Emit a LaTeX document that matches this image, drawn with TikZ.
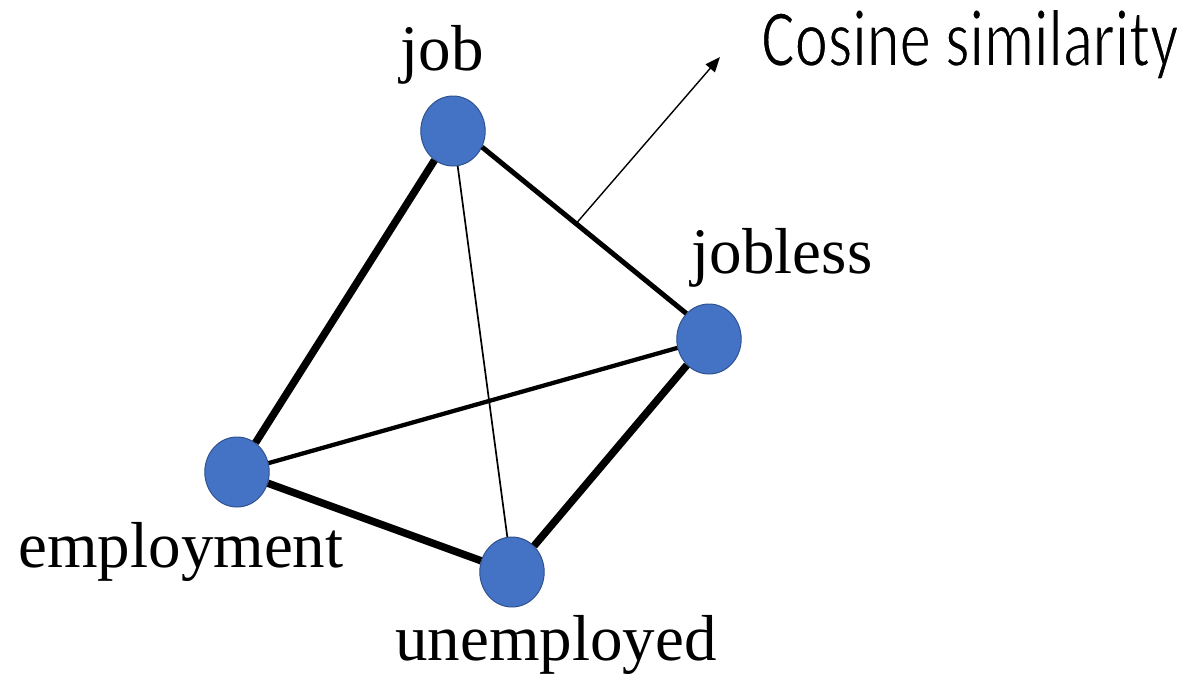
\documentclass[tikz,border=0pt]{standalone}
\usepackage{fontspec}
\setmainfont{Liberation Serif}
\newfontfamily\calib{Carlito}
\usetikzlibrary{arrows.meta,calc}
\definecolor{nodeblue}{HTML}{4472C4}
\definecolor{nodeedge}{HTML}{2F528F}
\newcommand{\thintext}[1]{\special{pdf:literal direct 2 Tr 1 G 1.6 w}#1\special{pdf:literal direct 0 Tr 0 G}}
\begin{document}
\begin{tikzpicture}[x=1pt,y=-1pt,
  word/.style={circle,fill=nodeblue,draw=nodeedge,line width=1pt,minimum size=70pt,inner sep=0pt,xscale=0.92,transform shape},
  wlabel/.style={anchor=base,inner sep=0pt,font=\fontsize{65}{70}\selectfont},
  heavy/.style={line width=7.5pt},
  medium/.style={line width=5pt},
  light/.style={line width=4.3pt},
  hair/.style={line width=1.7pt}]
\useasboundingbox (0,0) rectangle (1184,688);
% word nodes
\node[word] (job) at (453,131) {};
\node[word] (jobless) at (709,339) {};
\node[word] (employment) at (237,472) {};
\node[word] (unemployed) at (512,572) {};
% labels
\node[wlabel] (ljob) at (442,70) {job};
\node[wlabel] (ljobless) at (782,273) {jobless};
\node[wlabel] (lemployment) at (181,567) {employment};
\node[wlabel] (lunemployed) at (556,660) {unemployed};
\node[anchor=base,inner sep=0pt,font=\calib\fontsize{82}{90}\selectfont] (cos) at (970,66) {\scalebox{0.765}[1]{\thintext{Cosine similarity}}};
% edges
\draw[heavy] (job) -- (employment);
\draw[heavy] (employment) -- (unemployed);
\draw[heavy] (unemployed) -- (jobless);
\draw[medium] (job.-27) -- (jobless.134);
\draw[light] (employment) -- (jobless);
\draw[hair] (job) -- (unemployed);
% annotation arrow
\coordinate (astart) at ($(job.-27)!0.46!(jobless.134)$);
\coordinate (aend) at (720,57);
\draw[line width=1.4pt,-{Triangle[length=15pt,width=12pt]}] (astart) -- (aend);
\end{tikzpicture}
\end{document}
